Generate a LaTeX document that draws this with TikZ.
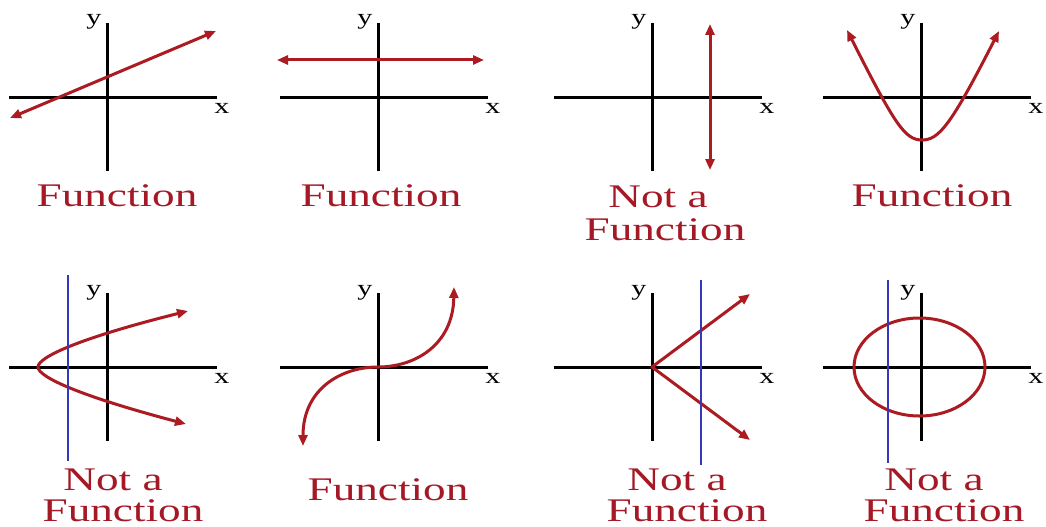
\documentclass[tikz,border=0pt]{standalone}
\usepackage{fontspec}
\setmainfont{Liberation Serif}
\usepackage{graphicx}
\usetikzlibrary{arrows.meta}
\definecolor{fred}{RGB}{172,26,34}
\definecolor{tred}{RGB}{165,25,38}
\definecolor{vblue}{RGB}{55,55,185}
\newcommand{\wide}[1]{\scalebox{1.37}[1]{#1}}
\begin{document}
\begin{tikzpicture}[x=1pt,y=-1pt,
  axis/.style={line width=3pt, black},
  graph/.style={line width=3pt, fred, line join=round},
  vline/.style={line width=2.4pt, vblue},
  tipboth/.style={{Triangle[length=11pt,width=9pt]}-{Triangle[length=11pt,width=9pt]}},
  lbl/.style={font=\fontsize{22}{24}\selectfont, inner sep=0pt, anchor=base},
  captxt/.style={font=\fontsize{33}{35}\selectfont, text=tred, inner sep=0pt, anchor=base},
  axes/.pic={
    \draw[axis] (-98,0) -- (110,0);
    \draw[axis] (0,-74) -- (0,74);
    \node[lbl] (-xl) at (115,16) {\wide{x}};
    \node[lbl] (-yl) at (-13,-72) {\wide{y}};
  }]
\fill[white] (0,0) rectangle (1046,527);
\useasboundingbox (0,0) rectangle (1046,527);

% axes
\pic (p1) at (107,97) {axes};
\pic (p2) at (378,97) {axes};
\pic (p3) at (652,97) {axes};
\pic (p4) at (921,97) {axes};
\pic (p5) at (107,367) {axes};
\pic (p6) at (378,367) {axes};
\pic (p7) at (652,367) {axes};
\pic (p8) at (921,367) {axes};

% graphs
\draw[graph, tipboth] (10,118) -- (216,31);
\draw[graph, tipboth] (277,60) -- (484,60);
\draw[graph, tipboth] (710,24) -- (710,170);
\draw[graph, tipboth] (847,30) .. controls (895,125) and (905,140) .. (922,140)
                      .. controls (939,140) and (951,125) .. (999,31);
\draw[graph, tipboth] (188,311) .. controls (80,338) and (38,357) .. (38,367)
                      .. controls (38,377) and (80,396) .. (186,424);
\draw[graph, tipboth] (303,446) .. controls (303,389) and (341,367) .. (378,367)
                      .. controls (415,367) and (453,345) .. (454,287);
\coordinate (o7) at (652,367);
\draw[graph, tipboth] (750,294) -- (o7) -- (750,440);
\draw[graph] (919.5,367) ellipse [x radius=65.5pt, y radius=49pt];

% vertical line tests
\draw[vline] (68,275) -- (68,461);
\draw[vline] (701,280) -- (701,465);
\draw[vline] (888,280) -- (888,463);

% captions
\node[captxt] (c1) at (117,206) {\wide{Function}};
\node[captxt] (c2) at (381,206) {\wide{Function}};
\node[captxt] (c3a) at (658,207) {\wide{Not a}};
\node[captxt] (c3b) at (665,240) {\wide{Function}};
\node[captxt] (c4) at (932,206) {\wide{Function}};
\node[captxt] (c5a) at (113,490) {\wide{Not a}};
\node[captxt] (c5b) at (123,521) {\wide{Function}};
\node[captxt] (c6) at (388,500) {\wide{Function}};
\node[captxt] (c7a) at (677,490) {\wide{Not a}};
\node[captxt] (c7b) at (687,521) {\wide{Function}};
\node[captxt] (c8a) at (934,490) {\wide{Not a}};
\node[captxt] (c8b) at (944,521) {\wide{Function}};
\end{tikzpicture}
\end{document}
